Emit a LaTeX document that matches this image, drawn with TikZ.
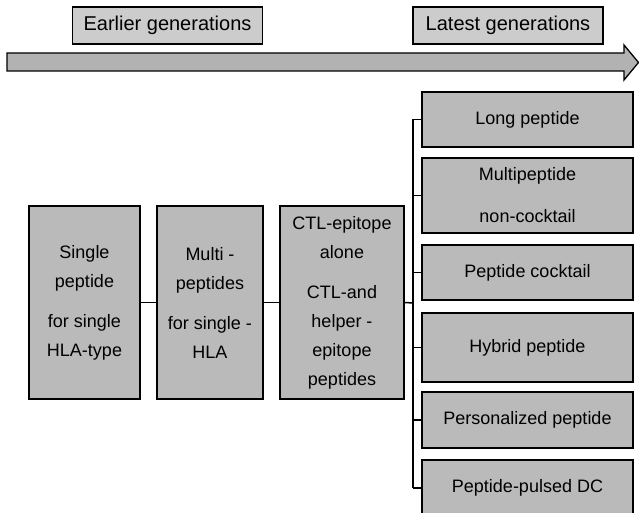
\documentclass[tikz,border=0pt]{standalone}
\usepackage{fontspec}
\setmainfont{Liberation Sans}
\usepackage{tikz}
\usetikzlibrary{positioning}

\begin{document}
\begin{tikzpicture}[x=1pt, y=-1pt,
		box/.style={draw=black, line width=1.5pt, fill=black!27, inner sep=0pt, align=center,
			font=\fontsize{18}{29}\selectfont},
		tagbox/.style={draw=black, line width=1.5pt, fill=black!20, inner sep=0pt,
			minimum width=190pt, minimum height=37pt, font=\fontsize{20}{24}\selectfont},
		link/.style={line width=1.5pt}]
				\useasboundingbox (0,0) rectangle (639,513);
				% Time line on top
				\filldraw[fill=black!30, draw=black, line width=1.3pt] (7,53) -- (624,53) -- (624,45) -- (638.5,62.5)
					-- (624,80) -- (624,71) -- (7,71) -- cycle;
				\node[tagbox] (early) at (167.5,25.5) {Earlier generations};
				\node[tagbox] (late) at (508,25.5) {Latest generations};
				% Earlier generations
				\node[box, minimum width=111pt, minimum height=193pt] (single) at (84.5,302.5)
					{Single\\peptide\\[11pt]for single\\HLA-type};
				\node[box, minimum width=106pt, minimum height=193pt] (multi) at (210,302.5)
					{Multi -\\peptides\\[11pt]for single -\\HLA};
				\node[box, minimum width=124pt, minimum height=193pt] (ctl) at (342,302.5)
					{CTL-epitope\\alone\\[11pt]CTL-and\\helper -\\epitope\\peptides};
				% Latest generations
				\node[box, minimum width=211pt, minimum height=55pt] (long) at (527.5,119.5) {Long peptide};
				\node[box, minimum width=211pt, minimum height=75pt] (noncock) at (527.5,195.5)
					{Multipeptide\\[13pt]non-cocktail};
				\node[box, minimum width=211pt, minimum height=55pt] (cocktail) at (527.5,272.5) {Peptide cocktail};
				\node[box, minimum width=211pt, minimum height=69pt] (hybrid) at (527.5,347.5) {Hybrid peptide};
				\node[box, minimum width=211pt, minimum height=56pt] (personal) at (527.5,420) {Personalized peptide};
				\node[box, minimum width=211pt, minimum height=56pt] (pulsed) at (527.5,488) {Peptide-pulsed DC};
				% Connectors
				\coordinate (spine) at (413,303);
				\draw[link] (single.east) -- (multi.west);
				\draw[link] (multi.east) -- (ctl.west);
				\draw[link] (ctl.east) -- (spine);
				\draw[link] (spine |- long.west) -- (spine |- pulsed.west);
				\foreach \n in {long, noncock, cocktail, hybrid, personal, pulsed}
					\draw[link] (spine |- \n.west) -- (\n.west);
\end{tikzpicture}
\end{document}
